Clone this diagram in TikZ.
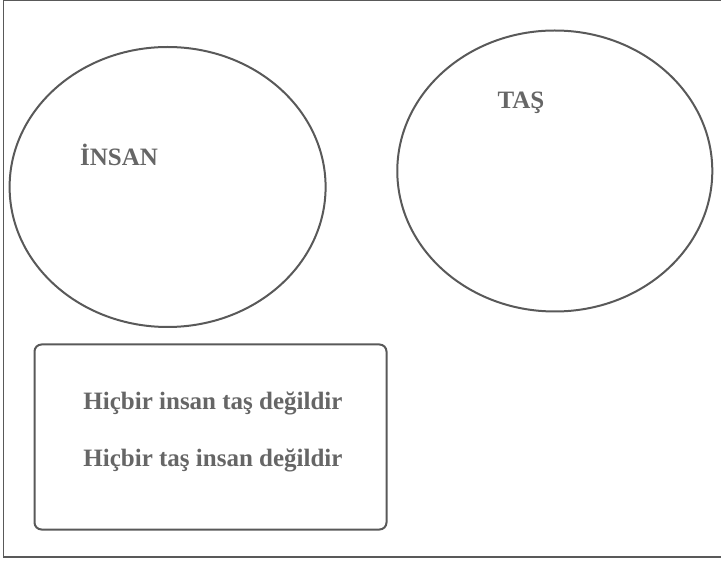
\documentclass[tikz,border=0pt]{standalone}
\usepackage{fontspec}
\setmainfont{Liberation Serif}
\definecolor{strokegray}{HTML}{595959}
\definecolor{textgray}{HTML}{666666}
\tikzset{
  shape line/.style={draw=strokegray, line width=2pt},
  label text/.style={text=textgray, font=\fontsize{25}{30}\selectfont\bfseries, inner sep=0pt},
}
\begin{document}
\begin{tikzpicture}[x=1pt,y=-1pt]
\useasboundingbox (0,0) rectangle (721,561);
\draw[draw=strokegray, line width=1.2pt] (725,0.6) -- (3.6,0.6) -- (3.6,557) -- (725,557);
\draw[shape line] (167.6,187) ellipse [x radius=158, y radius=140];
\draw[shape line] (554.8,171) ellipse [x radius=157.5, y radius=140.5];
\node[label text] (insan) at (119,155) {İNSAN};
\node[label text] (tas) at (521,103) {TAŞ};
\draw[shape line, rounded corners=7pt] (34.5,344.5) rectangle (386.5,529.5);
\node[label text, anchor=base] (l1) at (213,410) {Hiçbir insan taş değildir};
\node[label text, anchor=base] (l2) at (213,467) {Hiçbir taş insan değildir};
\end{tikzpicture}
\end{document}
